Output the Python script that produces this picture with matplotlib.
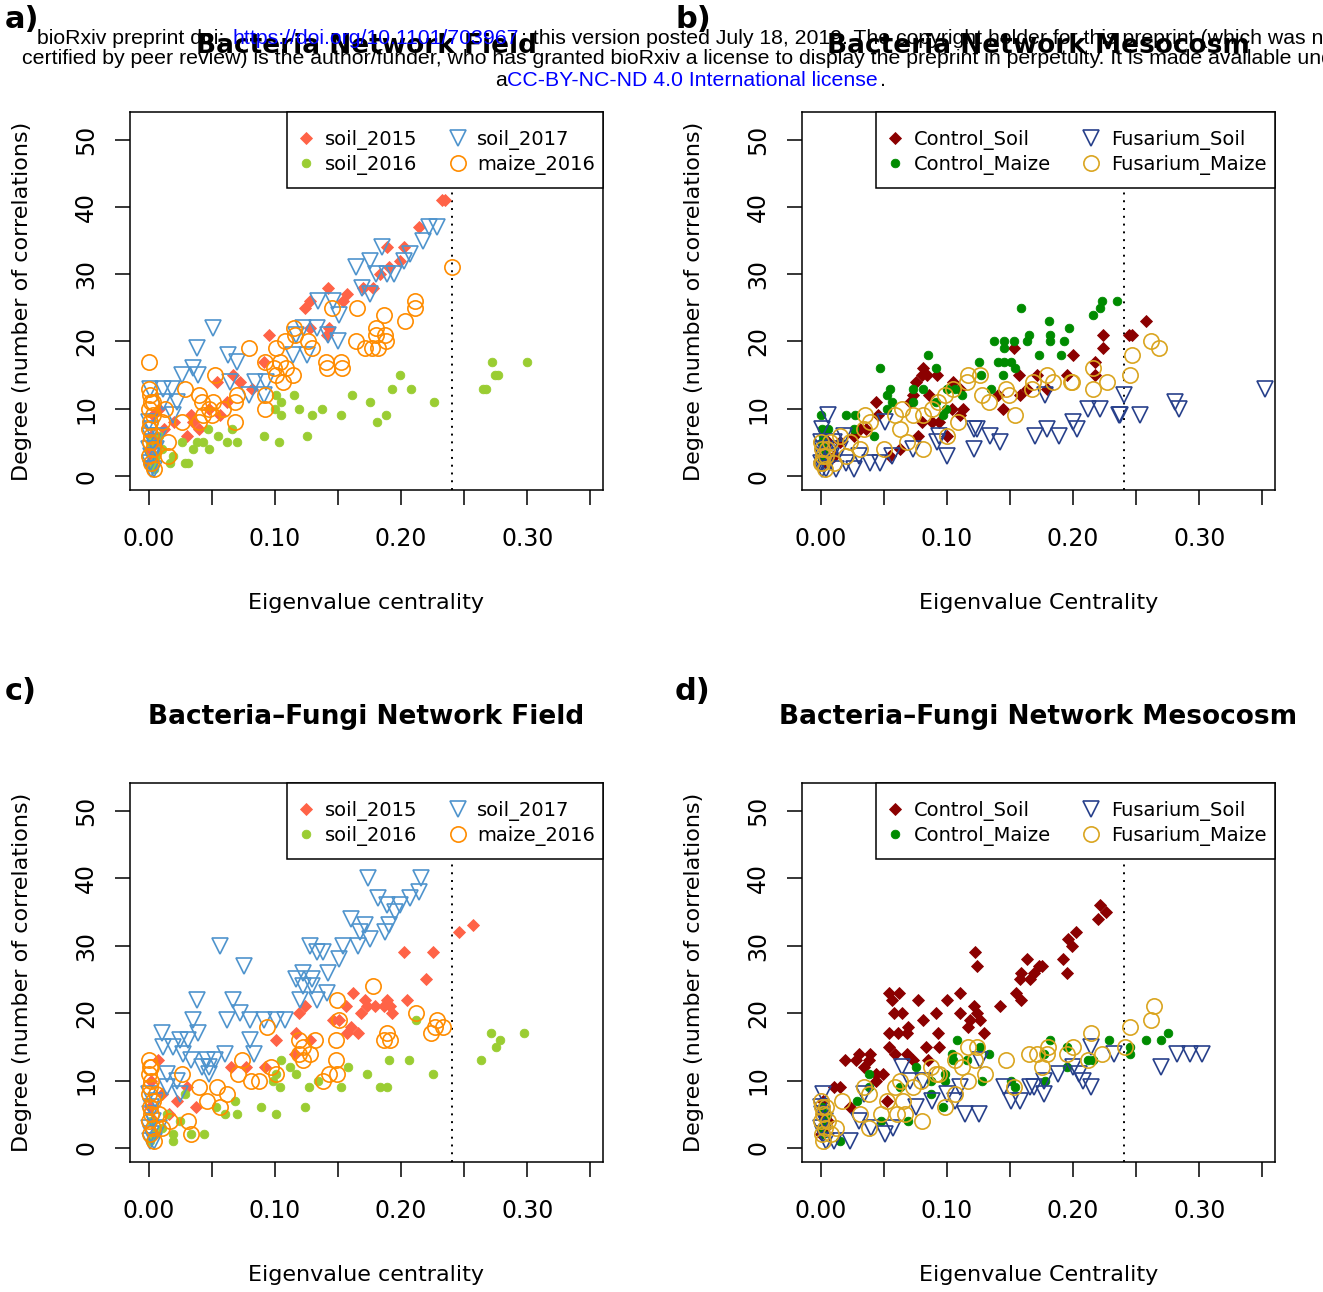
import numpy as np
import matplotlib
matplotlib.use("Agg")
import matplotlib.pyplot as plt
from matplotlib.patches import Rectangle

# ---- data: (eigenvalue centrality, degree) ----
a_soil2015 = [(0.232,41),(0.235,41),(0.214,37),(0.189,34),(0.202,34),(0.190,31),(0.183,30),(0.199,32),(0.142,28),(0.124,25),
              (0.128,26),(0.157,27),(0.154,26),(0.170,28),(0.178,28),(0.095,21),(0.141,21),(0.143,22),(0.128,22),(0.067,15),
              (0.072,14),(0.054,14),(0.082,13),(0.091,17),(0.033,9),(0.048,10),(0.035,8),(0.056,9),(0.030,6),(0.040,7),
              (0.062,11),(0.020,8),(0.012,7),(0.006,5),(0.003,9),(0.001,4),(0.002,6),(0.004,3),(0.000,2),(0.008,10)]
a_soil2016 = [(0.300,17),(0.272,17),(0.277,15),(0.274,15),(0.265,13),(0.267,13),(0.226,11),(0.199,15),(0.193,13),(0.208,13),
              (0.161,12),(0.175,11),(0.188,9),(0.181,8),(0.152,9),(0.137,10),(0.129,9),(0.119,10),(0.115,12),(0.101,12),
              (0.105,11),(0.100,10),(0.105,9),(0.125,6),(0.103,5),(0.091,6),(0.070,5),(0.062,5),(0.048,4),(0.066,7),
              (0.055,6),(0.047,7),(0.031,2),(0.029,2),(0.043,5),(0.038,5),(0.035,4),(0.026,5),(0.019,3),(0.017,2),
              (0.010,4),(0.006,3),(0.003,2),(0.001,5),(0.008,6),(0.004,1)]
a_soil2017 = [(0.228,37),(0.222,37),(0.217,35),(0.185,34),(0.207,33),(0.202,32),(0.175,32),(0.164,31),(0.189,30),(0.194,30),
              (0.180,30),(0.169,28),(0.175,27),(0.134,26),(0.146,26),(0.151,24),(0.122,22),(0.133,22),(0.117,21),(0.142,21),
              (0.150,20),(0.114,18),(0.125,18),(0.051,22),(0.038,19),(0.063,18),(0.070,17),(0.035,16),(0.026,15),(0.039,15),
              (0.064,14),(0.084,14),(0.093,14),(0.079,12),(0.091,12),(0.001,13),(0.011,13),(0.018,13),(0.022,11),(0.011,11),
              (0.019,9),(0.000,8),(0.002,7),(0.001,6),(0.003,5),(0.000,4),(0.002,3),(0.001,2),(0.002,1),(0.004,1),
              (0.006,4),(0.008,6)]
a_maize2016 = [(0.240,31),(0.211,26),(0.211,25),(0.165,25),(0.145,25),(0.186,24),(0.203,23),(0.180,22),(0.187,21),(0.180,21),
               (0.188,20),(0.164,20),(0.171,19),(0.177,19),(0.182,19),(0.140,17),(0.152,17),(0.141,16),(0.153,16),(0.115,22),
               (0.116,21),(0.126,20),(0.129,19),(0.108,20),(0.101,19),(0.079,19),(0.104,17),(0.099,16),(0.109,16),(0.092,17),
               (0.101,15),(0.114,15),(0.106,14),(0.052,15),(0.029,13),(0.070,12),(0.068,11),(0.092,12),(0.092,10),(0.040,12),
               (0.042,11),(0.051,11),(0.059,10),(0.048,10),(0.043,9),(0.050,9),(0.068,8),(0.026,8),(0.040,8),(0.013,10),
               (0.010,8),(0.015,5),(0.015,3),(0.000,17),(0.000,13),(0.001,12),(0.002,11),(0.000,10),(0.003,9),(0.001,8),
               (0.000,7),(0.002,6),(0.001,5),(0.003,4),(0.000,3),(0.002,2),(0.004,1),(0.003,11)]

b_ctrl_soil = [(0.258,23),(0.244,21),(0.247,21),(0.224,21),(0.224,19),(0.217,17),(0.217,15),(0.200,18),(0.195,15),(0.171,15),
               (0.157,15),(0.153,19),(0.163,13),(0.158,12),(0.179,13),(0.140,12),(0.144,10),(0.081,16),(0.084,15),(0.080,15),
               (0.092,15),(0.075,14),(0.073,12),(0.086,12),(0.044,11),(0.045,9),(0.071,11),(0.105,14),(0.110,13),(0.113,10),
               (0.110,9),(0.104,10),(0.080,8),(0.088,8),(0.094,8),(0.100,6),(0.077,6),(0.031,7),(0.026,6),(0.036,7),
               (0.063,4),(0.055,3),(0.015,5),(0.010,3),(0.002,4),(0.004,2),(0.006,5),(0.001,3)]
b_ctrl_maize = [(0.235,26),(0.223,26),(0.221,25),(0.216,24),(0.159,25),(0.181,23),(0.197,22),(0.165,21),(0.182,21),(0.137,20),
                (0.145,20),(0.153,20),(0.163,20),(0.182,20),(0.193,20),(0.145,19),(0.173,18),(0.190,18),(0.085,18),(0.125,17),
                (0.140,17),(0.145,17),(0.151,17),(0.154,16),(0.144,15),(0.127,15),(0.047,16),(0.091,16),(0.055,13),(0.073,13),
                (0.081,13),(0.052,12),(0.056,11),(0.100,13),(0.106,13),(0.112,12),(0.135,13),(0.091,11),(0.073,11),(0.052,10),
                (0.099,10),(0.000,9),(0.020,9),(0.027,9),(0.097,9),(0.001,7),(0.006,7),(0.026,7),(0.042,6),(0.001,5),
                (0.003,4),(0.002,6),(0.000,3)]
b_fus_soil = [(0.352,13),(0.281,11),(0.284,10),(0.240,12),(0.236,9),(0.237,9),(0.253,9),(0.212,10),(0.221,10),(0.200,8),
              (0.203,7),(0.178,12),(0.179,7),(0.170,6),(0.189,6),(0.121,7),(0.124,7),(0.134,6),(0.142,5),(0.121,4),
              (0.100,3),(0.092,5),(0.094,6),(0.073,4),(0.006,9),(0.051,8),(0.056,3),(0.047,2),(0.039,2),(0.026,1),
              (0.001,1),(0.012,1),(0.000,5),(0.001,4),(0.002,3),(0.000,2),(0.003,2),(0.004,1),(0.008,3),(0.020,2),
              (0.030,3),(0.015,4),(0.001,7),(0.010,5),(0.018,6)]
b_fus_maize = [(0.262,20),(0.268,19),(0.247,18),(0.245,15),(0.216,16),(0.227,14),(0.216,13),(0.198,14),(0.199,14),(0.179,15),
               (0.184,14),(0.168,14),(0.167,13),(0.154,9),(0.147,13),(0.149,12),(0.133,11),(0.128,12),(0.126,15),(0.117,15),
               (0.116,14),(0.105,13),(0.098,12),(0.093,11),(0.088,10),(0.081,9),(0.064,10),(0.059,9),(0.073,9),(0.063,7),
               (0.068,5),(0.109,8),(0.100,6),(0.081,4),(0.050,4),(0.035,9),(0.034,7),(0.039,8),(0.015,6),(0.023,5),
               (0.031,4),(0.007,5),(0.000,5),(0.001,4),(0.002,3),(0.000,2),(0.003,1),(0.004,3),(0.001,2),(0.005,4),
               (0.010,2),(0.020,3)]

c_soil2015 = [(0.257,33),(0.246,32),(0.202,29),(0.225,29),(0.220,25),(0.205,22),(0.162,23),(0.171,22),(0.189,22),(0.173,21),
              (0.179,21),(0.186,21),(0.191,21),(0.193,20),(0.168,20),(0.156,21),(0.146,19),(0.151,19),(0.160,18),(0.157,17),
              (0.166,17),(0.119,20),(0.124,21),(0.117,17),(0.128,16),(0.101,16),(0.116,14),(0.065,12),(0.077,12),(0.092,12),
              (0.007,13),(0.030,9),(0.022,7),(0.037,6),(0.002,10),(0.001,6),(0.003,4),(0.004,2),(0.010,8),(0.016,5)]
c_soil2016 = [(0.297,17),(0.271,17),(0.278,16),(0.275,15),(0.263,13),(0.212,19),(0.225,11),(0.190,13),(0.206,13),(0.173,11),
              (0.158,12),(0.183,9),(0.189,9),(0.152,9),(0.134,10),(0.127,9),(0.124,6),(0.117,11),(0.112,12),(0.105,13),
              (0.101,11),(0.098,10),(0.104,9),(0.101,5),(0.089,6),(0.068,7),(0.070,5),(0.060,5),(0.044,2),(0.033,2),
              (0.019,1),(0.019,2),(0.029,8),(0.053,6),(0.010,3),(0.005,2),(0.002,4),(0.001,1),(0.014,5),(0.025,4)]
c_soil2017 = [(0.174,40),(0.216,40),(0.214,38),(0.207,37),(0.182,37),(0.189,36),(0.199,36),(0.195,35),(0.160,34),(0.171,33),
              (0.190,33),(0.167,32),(0.187,32),(0.175,31),(0.128,30),(0.154,30),(0.166,30),(0.056,30),(0.133,29),(0.138,29),
              (0.151,28),(0.075,27),(0.122,26),(0.142,26),(0.117,25),(0.129,25),(0.122,24),(0.129,24),(0.141,23),(0.120,22),
              (0.133,22),(0.038,22),(0.067,22),(0.072,20),(0.035,19),(0.062,19),(0.080,19),(0.091,19),(0.101,19),(0.108,19),
              (0.010,17),(0.039,17),(0.025,16),(0.031,16),(0.011,15),(0.019,15),(0.080,16),(0.027,14),(0.060,14),(0.083,14),
              (0.033,13),(0.046,13),(0.052,13),(0.042,12),(0.048,12),(0.048,11),(0.014,11),(0.022,10),(0.014,9),(0.025,8),
              (0.000,8),(0.002,6),(0.001,5),(0.003,4),(0.000,3),(0.002,2),(0.001,1),(0.004,1),(0.006,7),(0.008,3)]
c_maize2016 = [(0.178,24),(0.149,22),(0.151,19),(0.212,20),(0.228,19),(0.233,18),(0.227,18),(0.224,17),(0.189,17),(0.186,16),
               (0.191,16),(0.148,16),(0.132,16),(0.119,16),(0.122,15),(0.128,14),(0.119,14),(0.122,13),(0.094,18),(0.148,13),
               (0.143,11),(0.149,11),(0.138,10),(0.097,12),(0.101,11),(0.074,13),(0.071,11),(0.081,10),(0.087,10),(0.026,11),
               (0.040,9),(0.054,9),(0.062,8),(0.046,7),(0.056,6),(0.031,4),(0.033,2),(0.017,4),(0.000,13),(0.001,12),
               (0.000,11),(0.002,10),(0.001,9),(0.000,8),(0.003,7),(0.001,6),(0.002,5),(0.000,4),(0.003,3),(0.001,2),
               (0.004,1),(0.002,12),(0.006,8),(0.008,5),(0.010,3)]

d_ctrl_soil = [(0.221,36),(0.226,35),(0.220,34),(0.202,32),(0.196,31),(0.199,30),(0.192,28),(0.195,26),(0.163,28),(0.175,27),
               (0.173,27),(0.169,26),(0.159,26),(0.158,25),(0.166,25),(0.155,23),(0.159,22),(0.142,21),(0.122,29),(0.124,27),
               (0.110,23),(0.121,21),(0.124,20),(0.110,20),(0.118,19),(0.126,19),(0.117,18),(0.129,17),(0.100,22),(0.091,20),
               (0.081,19),(0.077,22),(0.054,23),(0.062,23),(0.056,22),(0.058,20),(0.064,20),(0.069,18),(0.054,17),(0.061,17),
               (0.068,17),(0.093,17),(0.054,15),(0.083,15),(0.094,15),(0.059,14),(0.068,14),(0.073,13),(0.085,13),(0.019,13),
               (0.030,14),(0.039,14),(0.028,13),(0.034,12),(0.038,13),(0.044,11),(0.049,11),(0.044,10),(0.010,9),(0.015,9),
               (0.023,6),(0.052,7),(0.002,7),(0.001,5),(0.003,3),(0.000,2),(0.006,4)]
d_ctrl_maize = [(0.275,17),(0.270,16),(0.258,16),(0.245,15),(0.245,14),(0.228,16),(0.216,13),(0.212,13),(0.195,12),(0.182,16),
                (0.195,15),(0.177,14),(0.178,10),(0.151,10),(0.154,9),(0.128,10),(0.133,14),(0.126,15),(0.108,16),(0.104,14),
                (0.105,13),(0.116,13),(0.075,12),(0.098,11),(0.098,10),(0.087,10),(0.087,8),(0.038,11),(0.038,9),(0.063,9),
                (0.097,6),(0.069,4),(0.029,7),(0.015,1),(0.048,4),(0.001,6),(0.003,4),(0.000,3),(0.002,2),(0.005,5)]
d_fus_soil = [(0.302,14),(0.293,14),(0.282,14),(0.270,12),(0.232,14),(0.214,15),(0.214,9),(0.208,10),(0.205,11),(0.200,12),
              (0.188,11),(0.177,10),(0.177,8),(0.169,9),(0.166,9),(0.158,7),(0.151,7),(0.145,9),(0.125,5),(0.114,5),
              (0.110,9),(0.106,7),(0.100,8),(0.088,7),(0.126,13),(0.064,12),(0.071,10),(0.081,10),(0.075,6),(0.051,2),
              (0.057,3),(0.023,1),(0.034,8),(0.002,8),(0.000,6),(0.001,5),(0.003,4),(0.000,3),(0.002,2),(0.004,1),
              (0.010,1),(0.040,3),(0.030,4)]
d_fus_maize = [(0.264,21),(0.262,19),(0.245,18),(0.241,15),(0.214,17),(0.223,14),(0.212,13),(0.200,15),(0.195,14),(0.180,15),
               (0.179,14),(0.171,14),(0.165,14),(0.175,12),(0.147,13),(0.153,9),(0.117,15),(0.124,15),(0.122,13),(0.130,11),
               (0.112,12),(0.106,13),(0.117,10),(0.094,11),(0.091,11),(0.087,12),(0.079,10),(0.063,10),(0.059,9),(0.073,9),
               (0.065,7),(0.060,5),(0.067,5),(0.080,4),(0.106,8),(0.098,6),(0.034,9),(0.038,8),(0.052,7),(0.048,5),
               (0.031,5),(0.038,3),(0.017,7),(0.000,7),(0.001,6),(0.002,5),(0.000,4),(0.003,3),(0.001,2),(0.002,1),
               (0.004,6),(0.006,4),(0.008,2),(0.012,3)]

field_labels = ["soil_2015", "soil_2016", "soil_2017", "maize_2016"]
meso_labels = ["Control_Soil", "Control_Maize", "Fusarium_Soil", "Fusarium_Maize"]
titles = ["Bacteria Network Field", "Bacteria Network Mesocosm",
          "Bacteria\u2013Fungi Network Field", "Bacteria\u2013Fungi Network Mesocosm"]
xlabels = ["Eigenvalue centrality", "Eigenvalue Centrality", "Eigenvalue centrality", "Eigenvalue Centrality"]
cutoff = 0.24

# marker styles per series slot: (marker, size, colour, filled)
field_styles = [("D", 5.8, "tomato", True), ("o", 6.2, "yellowgreen", True),
                ("v", 11.5, "#4F94CD", False), ("o", 11.0, "darkorange", False)]
meso_styles = [("D", 5.8, "darkred", True), ("o", 6.2, "#008B00", True),
               ("v", 11.5, "#27408B", False), ("o", 11.0, "goldenrod", False)]

W, H = 1323, 1292
fig = plt.figure(figsize=(W / 100, H / 100), dpi=100)
plt.rcParams['font.family'] = 'DejaVu Sans'

def fx(px):
    return px / W

def fy(py):
    return 1 - py / H

# axes boxes in pixels: left, top, right, bottom
boxes = [(130, 112, 603, 490), (802, 112, 1275, 490), (130, 783, 603, 1162), (802, 783, 1275, 1162)]
# legend frame left edge in pixels
leg_left = [287, 876, 287, 876]
panels = [(a_soil2015, a_soil2016, a_soil2017, a_maize2016),
          (b_ctrl_soil, b_ctrl_maize, b_fus_soil, b_fus_maize),
          (c_soil2015, c_soil2016, c_soil2017, c_maize2016),
          (d_ctrl_soil, d_ctrl_maize, d_fus_soil, d_fus_maize)]
letters = ["a)", "b)", "c)", "d)"]

for i in range(4):
    l, t, r, b = boxes[i]
    ax = fig.add_axes([fx(l), fy(b), (r - l) / W, (b - t) / H])
    styles = field_styles if i % 2 == 0 else meso_styles
    labels = field_labels if i % 2 == 0 else meso_labels
    for data, st, lab in zip(panels[i], styles, labels):
        pts = np.array(data)
        m, ms, col, filled = st
        if filled:
            ax.plot(pts[:, 0], pts[:, 1], ls="none", marker=m, ms=ms, mfc=col, mec=col, mew=0.6, label=lab)
        else:
            ax.plot(pts[:, 0], pts[:, 1], ls="none", marker=m, ms=ms, mfc="none", mec=col, mew=1.2, label=lab)
    ax.axvline(cutoff, color="black", ls=(0, (1, 3)), lw=1.4, zorder=0)
    ax.set_xlim(-0.015, 0.360)
    ax.set_ylim(-2.08, 54.1)
    ax.set_xticks(np.arange(0, 0.351, 0.05))
    ax.set_xticklabels(["0.00", "", "0.10", "", "0.20", "", "0.30", ""])
    ax.set_yticks([0, 10, 20, 30, 40, 50])
    ax.set_yticklabels(["0", "10", "20", "30", "40", "50"], rotation=90, va="center")
    ax.tick_params(axis="both", direction="out", length=11, width=1.1, labelsize=17)
    ax.tick_params(axis="x", pad=16)
    ax.tick_params(axis="y", pad=12)
    for s in ax.spines.values():
        s.set_linewidth(1.1)

    # legend: frame drawn by hand so the padding matches R's legend box
    ll = leg_left[i]
    frame = Rectangle((fx(ll), fy(t + 76)), fx(r) - fx(ll), fy(t) - fy(t + 76), transform=fig.transFigure,
                      facecolor="white", edgecolor="black", lw=1.1, zorder=4, clip_on=False)
    ax.add_patch(frame)
    leg = ax.legend(loc="upper left", bbox_to_anchor=(fx(ll + 15), fy(t + 18)), bbox_transform=fig.transFigure,
                    ncol=2, fontsize=14, frameon=False, borderaxespad=0, borderpad=0,
                    handlelength=0.4, handletextpad=0.8, columnspacing=1.85, labelspacing=0.27,
                    numpoints=1)
    leg.set_zorder(5)

    # titles, axis labels, panel letters
    cx = (l + r) / 2
    fig.text(fx(cx), fy(t - 66), titles[i], ha="center", va="center", fontsize=19, fontweight="bold")
    fig.text(fx(cx), fy(b + 113), xlabels[i], ha="center", va="center", fontsize=16)
    fig.text(fx(l - 108), fy((t + b) / 2), "Degree (number of correlations)", rotation=90,
             ha="center", va="center", fontsize=16)
    fig.text(fx(l - 125 if i % 2 == 0 else l - 127), fy(t - 92), letters[i], ha="left", va="center",
             fontsize=22, fontweight="bold")

# bioRxiv header
hdr = dict(fontsize=15.3, family="Liberation Sans", va="center", zorder=10)
fig.text(fx(37), fy(38), "bioRxiv preprint doi: ", ha="left", color="black", **hdr)
fig.text(fx(232), fy(38), "https://doi.org/10.1101/703967", ha="left", color="blue", **hdr)
fig.text(fx(521), fy(38), "; this version posted July 18, 2019. The copyright holder for this preprint (which was not",
         ha="left", color="black", **hdr)
fig.text(fx(22), fy(59), "certified by peer review) is the author/funder, who has granted bioRxiv a license to display "
         "the preprint in perpetuity. It is made available under", ha="left", color="black", **hdr)
fig.text(fx(495), fy(80), "a", ha="left", color="black", **hdr)
fig.text(fx(507), fy(80), "CC-BY-NC-ND 4.0 International license", ha="left", color="blue", **hdr)
fig.text(fx(880), fy(80), ".", ha="left", color="black", **hdr)

fig.savefig("out.png", dpi=100)
